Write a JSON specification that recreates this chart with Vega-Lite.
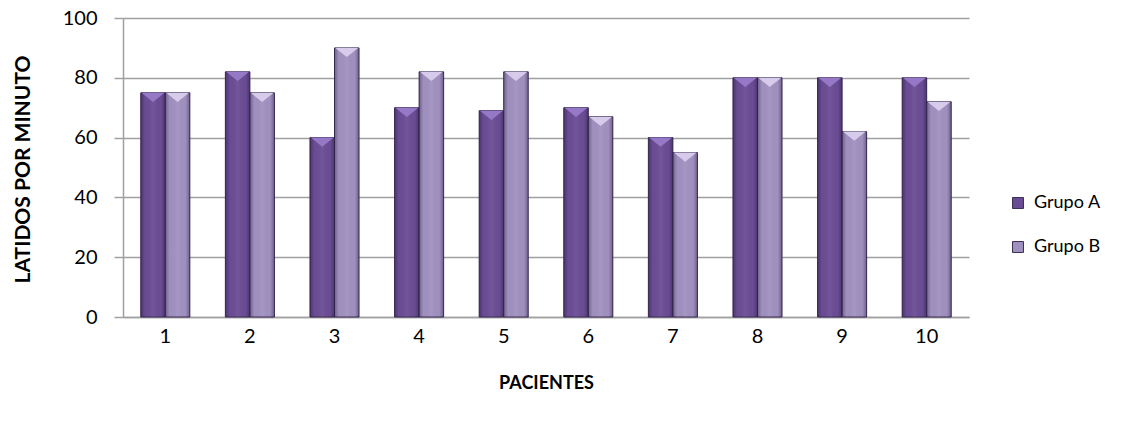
{
  "$schema": "https://vega.github.io/schema/vega-lite/v6.json",
  "width": 846,
  "height": 299,
  "autosize": "none",
  "padding": {"left": 123, "top": 18, "right": 162, "bottom": 111},
  "background": "white",
  "config": {
    "font": "Lato",
    "view": {"stroke": null}
  },
  "data": {
    "values": [
      {"paciente": "1", "grupo": "Grupo A", "latidos": 75},
      {"paciente": "1", "grupo": "Grupo B", "latidos": 75},
      {"paciente": "2", "grupo": "Grupo A", "latidos": 82},
      {"paciente": "2", "grupo": "Grupo B", "latidos": 75},
      {"paciente": "3", "grupo": "Grupo A", "latidos": 60},
      {"paciente": "3", "grupo": "Grupo B", "latidos": 90},
      {"paciente": "4", "grupo": "Grupo A", "latidos": 70},
      {"paciente": "4", "grupo": "Grupo B", "latidos": 82},
      {"paciente": "5", "grupo": "Grupo A", "latidos": 69},
      {"paciente": "5", "grupo": "Grupo B", "latidos": 82},
      {"paciente": "6", "grupo": "Grupo A", "latidos": 70},
      {"paciente": "6", "grupo": "Grupo B", "latidos": 67},
      {"paciente": "7", "grupo": "Grupo A", "latidos": 60},
      {"paciente": "7", "grupo": "Grupo B", "latidos": 55},
      {"paciente": "8", "grupo": "Grupo A", "latidos": 80},
      {"paciente": "8", "grupo": "Grupo B", "latidos": 80},
      {"paciente": "9", "grupo": "Grupo A", "latidos": 80},
      {"paciente": "9", "grupo": "Grupo B", "latidos": 62},
      {"paciente": "10", "grupo": "Grupo A", "latidos": 80},
      {"paciente": "10", "grupo": "Grupo B", "latidos": 72}
    ]
  },
  "encoding": {
    "x": {
      "field": "paciente",
      "type": "ordinal",
      "sort": null,
      "scale": {"paddingInner": 0.42, "paddingOuter": 0.21},
      "axis": {
        "title": "PACIENTES",
        "titleFontSize": 18,
        "titleFontWeight": "bold",
        "titleColor": "#000000",
        "titleX": 423,
        "titleY": 66,
        "titleBaseline": "middle",
        "labelAngle": 0,
        "labelFontSize": 20,
        "labelColor": "#000000",
        "labelPadding": 9,
        "ticks": false,
        "domainColor": "#a0a0a0",
        "domainWidth": 1.5
      }
    },
    "xOffset": {"field": "grupo", "type": "nominal", "scale": {"paddingInner": 0, "paddingOuter": 0}},
    "y": {
      "field": "latidos",
      "type": "quantitative",
      "scale": {"domain": [0, 100]},
      "axis": {
        "title": "LATIDOS POR MINUTO",
        "titleFontSize": 21,
        "titleFontWeight": "bold",
        "titleColor": "#000000",
        "titleAngle": -90,
        "titleX": -100,
        "titleY": 151,
        "titleAlign": "center",
        "titleBaseline": "middle",
        "values": [0, 20, 40, 60, 80, 100],
        "labelFontSize": 20,
        "labelColor": "#000000",
        "labelPadding": 17,
        "tickSize": 9,
        "tickColor": "#a0a0a0",
        "tickWidth": 1.5,
        "domainColor": "#a0a0a0",
        "domainWidth": 1.5,
        "gridColor": "#a0a0a0",
        "gridWidth": 1.5
      }
    }
  },
  "layer": [
    {
      "mark": {"type": "bar", "stroke": "#3b2d55", "strokeWidth": 1},
      "encoding": {
        "color": {
          "field": "grupo",
          "type": "nominal",
          "scale": {"domain": ["Grupo A", "Grupo B"], "range": ["#6a4c94", "#a090bf"]},
          "legend": {
            "title": null,
            "orient": "none",
            "legendX": 886,
            "legendY": 176,
            "symbolType": "square",
            "symbolSize": 120,
            "symbolStrokeColor": "#3b2d55",
            "symbolStrokeWidth": 1,
            "labelFontSize": 18,
            "labelColor": "#000000",
            "rowPadding": 26,
            "labelOffset": 7
          }
        }
      }
    },
    {
      "mark": {
        "type": "bar",
        "strokeWidth": 0,
        "fill": {
          "gradient": "linear",
          "x1": 0, "x2": 1, "y1": 0, "y2": 0,
          "stops": [
            {"offset": 0, "color": "rgba(20,10,40,0.35)"},
            {"offset": 0.18, "color": "rgba(20,10,40,0)"},
            {"offset": 0.5, "color": "rgba(255,255,255,0.06)"},
            {"offset": 0.82, "color": "rgba(20,10,40,0)"},
            {"offset": 1, "color": "rgba(20,10,40,0.35)"}
          ]
        }
      },
      "encoding": {}
    },
    {
      "mark": {
        "type": "point",
        "shape": "M -1 0 L 1 0 L 0 0.8 Z",
        "size": 530,
        "filled": true,
        "opacity": 1,
        "strokeWidth": 0
      },
      "encoding": {
        "fill": {
          "condition": {"test": "datum.grupo === 'Grupo A'", "value": "#9679c6"},
          "value": "#d6cbea"
        }
      }
    }
  ]
}
